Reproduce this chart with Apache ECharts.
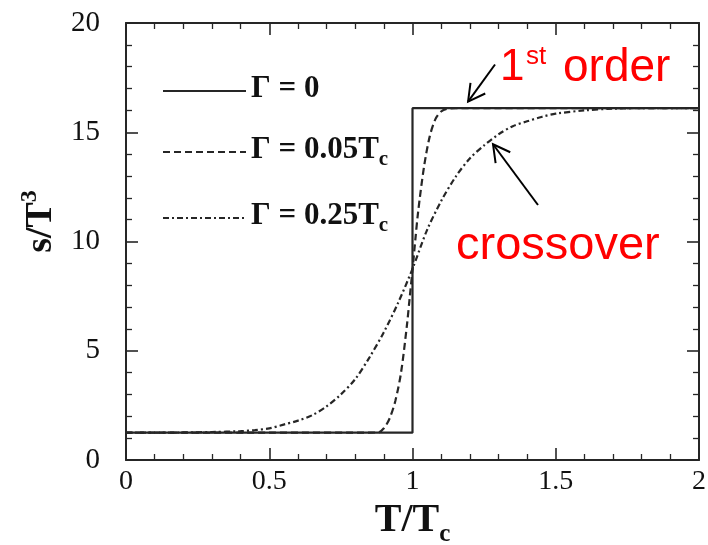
<!DOCTYPE html>
<html><head><meta charset="utf-8">
<script src="https://cdn.jsdelivr.net/npm/echarts@6/dist/echarts.min.js"></script>
<style>html,body{margin:0;padding:0;background:#fff}#c{width:708px;height:545px}</style>
</head><body><div id="c"></div>
<script>
// Entropy density s/T^3 versus reduced temperature T/Tc
const xTicks = [0, 0.5, 1, 1.5, 2];
const yTicks = [0, 5, 10, 15, 20];

// Γ = 0 : sharp first-order jump at Tc
const tStep = [0, 1, 1, 2];
const sStep = [1.25, 1.25, 16.1, 16.1];

// Γ = 0.05 Tc
const tNarrow = [0, 0.5, 0.88, 0.9, 0.92, 0.94, 0.96, 0.98, 0.99, 1.0, 1.01, 1.02, 1.04, 1.06, 1.08, 1.1, 1.12, 1.15, 1.5, 2.0];
const sNarrow = [1.25, 1.25, 1.26, 1.45, 1.9, 2.7, 4.0, 6.1, 7.4, 8.7, 10.1, 11.4, 13.4, 14.8, 15.6, 15.95, 16.07, 16.1, 16.1, 16.1];

// Γ = 0.25 Tc : smooth crossover
const tWide = [0, 0.1, 0.2, 0.3, 0.4, 0.45, 0.5, 0.55, 0.6, 0.65, 0.7, 0.75, 0.8, 0.85, 0.9, 0.95, 1.0, 1.05, 1.1, 1.15, 1.2, 1.25, 1.3, 1.35, 1.4, 1.45, 1.5, 1.6, 1.7, 1.8, 1.9, 2.0];
const sWide = [1.25, 1.25, 1.26, 1.28, 1.32, 1.37, 1.45, 1.62, 1.8, 2.05, 2.45, 3.0, 3.7, 4.7, 5.85, 7.2, 8.75, 10.5, 11.85, 12.95, 13.8, 14.4, 14.9, 15.28, 15.5, 15.7, 15.85, 16.0, 16.08, 16.1, 16.1, 16.1];

const seriesNames = ['Γ = 0', 'Γ = 0.05Tc', 'Γ = 0.25Tc'];

// annotation arrows, [tail, tip] in data units
const arrowFirst = [[1.288, 18.1], [1.194, 16.4]];
const arrowCross = [[1.438, 11.67], [1.281, 14.45]];

const zip = (xs, ys) => xs.map((x, i) => [x, ys[i]]);

const ink = '#262626';
const serif = 'Liberation Serif';

// boxed frame: every side carries inward major and minor ticks
function frameAxis(extra) {
  return Object.assign({
    type: 'value',
    axisLine: { show: true, onZero: false, lineStyle: { color: ink, width: 2 } },
    axisTick: { show: true, inside: true, length: 12, lineStyle: { color: ink, width: 1.6 } },
    minorTick: { show: true, splitNumber: 5, length: 6, lineStyle: { color: ink, width: 1.3 } },
    splitLine: { show: false },
    axisLabel: { show: false }
  }, extra);
}

const chart = echarts.init(document.getElementById('c'), null, { renderer: 'canvas' });

chart.setOption({
  backgroundColor: '#fff',
  animation: false,
  grid: { left: 126, right: 9, top: 23, bottom: 85, outerBoundsMode: 'none' },
  xAxis: [
    frameAxis({
      position: 'bottom', min: xTicks[0], max: xTicks[xTicks.length - 1], interval: xTicks[1] - xTicks[0],
      axisLabel: { show: true, margin: 8, color: '#111', fontFamily: serif, fontSize: 28 },
      name: '{m|T/T}{s|c}', nameLocation: 'middle', nameGap: 36,
      nameTextStyle: {
        rich: {
          m: { fontFamily: serif, fontWeight: 'bold', fontSize: 40, color: '#111', verticalAlign: 'top', lineHeight: 46 },
          s: { fontFamily: serif, fontWeight: 'bold', fontSize: 25, color: '#111', verticalAlign: 'bottom', lineHeight: 46 }
        }
      }
    }),
    frameAxis({ position: 'top', min: xTicks[0], max: xTicks[xTicks.length - 1], interval: xTicks[1] - xTicks[0] })
  ],
  yAxis: [
    frameAxis({
      position: 'left', min: yTicks[0], max: yTicks[yTicks.length - 1], interval: yTicks[1] - yTicks[0],
      axisLabel: { show: true, margin: 26, color: '#111', fontFamily: serif, fontSize: 29 },
      name: '{m|s/T}{p|3}', nameLocation: 'middle', nameGap: 66, nameRotate: 90,
      nameTextStyle: {
        padding: [0, 0, 0, 40],
        rich: {
          m: { fontFamily: serif, fontWeight: 'bold', fontSize: 38, color: '#111', verticalAlign: 'bottom', lineHeight: 42 },
          p: { fontFamily: serif, fontWeight: 'bold', fontSize: 24, color: '#111', verticalAlign: 'top', lineHeight: 42 }
        }
      }
    }),
    frameAxis({ position: 'right', min: yTicks[0], max: yTicks[yTicks.length - 1], interval: yTicks[1] - yTicks[0] })
  ],
  legend: {
    orient: 'vertical', left: 157, top: 68,
    itemWidth: 83, itemHeight: 14, itemGap: 30,
    data: seriesNames,
    itemStyle: { opacity: 0 },
    formatter: n => '{m|' + n.replace(/Tc$/, 'T') + '}' + (/Tc$/.test(n) ? '{s|c}' : ''),
    textStyle: {
      rich: {
        m: { fontFamily: serif, fontWeight: 'bold', fontSize: 31, color: '#111', verticalAlign: 'top', lineHeight: 36 },
        s: { fontFamily: serif, fontWeight: 'bold', fontSize: 21, color: '#111', verticalAlign: 'bottom', lineHeight: 36 }
      }
    }
  },
  series: [
    {
      name: seriesNames[0], type: 'line', symbol: 'none', data: zip(tStep, sStep),
      lineStyle: { color: ink, width: 2.2, type: 'solid' }
    },
    {
      name: seriesNames[1], type: 'line', symbol: 'none', data: zip(tNarrow, sNarrow), smooth: 0.3,
      lineStyle: { color: ink, width: 2.2, type: [7, 4] }
    },
    {
      name: seriesNames[2], type: 'line', symbol: 'none', data: zip(tWide, sWide), smooth: 0.3,
      lineStyle: { color: ink, width: 2.2, type: [6, 3, 2, 3] }
    }
  ]
});

// arrows drawn in pixel space from data-space anchors
function arrow(pair) {
  const a = chart.convertToPixel({ gridIndex: 0 }, pair[0]);
  const b = chart.convertToPixel({ gridIndex: 0 }, pair[1]);
  const ang = Math.atan2(a[1] - b[1], a[0] - b[0]);
  const L = 19, h = 0.5;
  const p1 = [b[0] + L * Math.cos(ang + h), b[1] + L * Math.sin(ang + h)];
  const p2 = [b[0] + L * Math.cos(ang - h), b[1] + L * Math.sin(ang - h)];
  const st = { stroke: '#000', lineWidth: 2, fill: null };
  return [
    { type: 'polyline', shape: { points: [a, b] }, style: st, z: 20 },
    { type: 'polyline', shape: { points: [p1, b, p2] }, style: st, z: 20 }
  ];
}

const red = '#ff0000';
const sans = 'Liberation Sans';
chart.setOption({
  graphic: [].concat(
    arrow(arrowFirst),
    arrow(arrowCross),
    [
      { type: 'text', z: 21, style: { x: 500, y: 68, text: '1', font: '44px ' + sans, fill: red, verticalAlign: 'middle' } },
      { type: 'text', z: 21, style: { x: 526, y: 57, text: 'st', font: '26px ' + sans, fill: red, verticalAlign: 'middle' } },
      { type: 'text', z: 21, style: { x: 563, y: 68, text: 'order', font: '46px ' + sans, fill: red, verticalAlign: 'middle' } },
      { type: 'text', z: 21, style: { x: 456, y: 246, text: 'crossover', font: '47px ' + sans, fill: red, verticalAlign: 'middle' } }
    ]
  )
});
</script></body></html>
